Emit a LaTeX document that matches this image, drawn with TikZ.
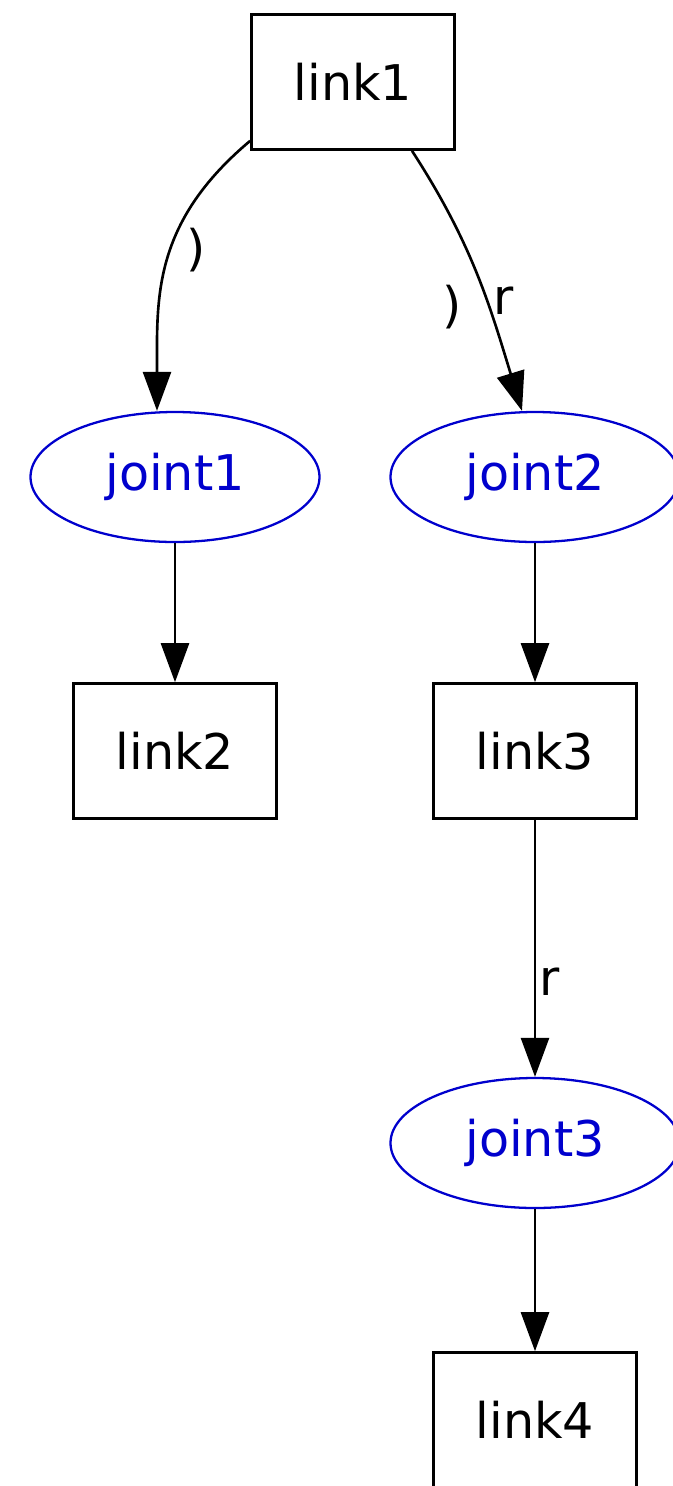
\documentclass[tikz,border=0pt]{standalone}
\usepackage{fontspec}
\setmainfont{DejaVu Sans}
\usetikzlibrary{positioning,shapes.geometric,arrows.meta}
\definecolor{jointblue}{RGB}{0,0,205}

\begin{document}
\begin{tikzpicture}[>={Triangle[length=0.78cm,width=0.56cm]},on grid,
  every node/.style={font=\fontsize{28}{32}\selectfont},
  link/.style={draw,line width=1.5pt,minimum width=4.06cm,minimum height=2.7cm},
  joint/.style={ellipse,draw=jointblue,text=jointblue,line width=1.3pt,
    minimum width=5.78cm,minimum height=2.6cm,inner sep=0pt},
  edge/.style={->,line width=1.5pt}]
  \useasboundingbox (0,0) rectangle (13.44,-29.72);
  \node[link] (link1) at (7.06,-1.64) {link1};
  \node[joint] (joint1) [below left=7.9cm and 3.56cm of link1] {joint1};
  \node[joint] (joint2) [below right=7.9cm and 3.64cm of link1] {joint2};
  \node[link] (link2) [below=5.48cm of joint1] {link2};
  \node[link] (link3) [below=5.48cm of joint2] {link3};
  \node[joint] (joint3) [below=7.84cm of link3] {joint3};
  \node[link] (link4) [below=5.54cm of joint3] {link4};
  \draw[edge] ([yshift=0.2cm]link1.south west) to[out=220,in=90,out looseness=1.15,in looseness=1]
    ([xshift=-0.36cm]joint1.north);
  \draw[edge] ([xshift=1.18cm]link1.south) to[out=-57,in=107]
    node[pos=0.6,right,inner sep=3pt] (r1) {r} ([xshift=-0.26cm]joint2.north);
  \draw[edge] (joint1) -- (link2);
  \draw[edge] (joint2) -- (link3);
  \draw[edge] (link3) -- node[pos=0.63,right,inner sep=2pt] (r2) {r} (joint3);
  \draw[edge] (joint3) -- (link4);
  % pieces of the hidden labels
  \node (p1) at (3.92,-5.0) {)};
  \node (p2) at (9.04,-6.14) {)};
\end{tikzpicture}
\end{document}
